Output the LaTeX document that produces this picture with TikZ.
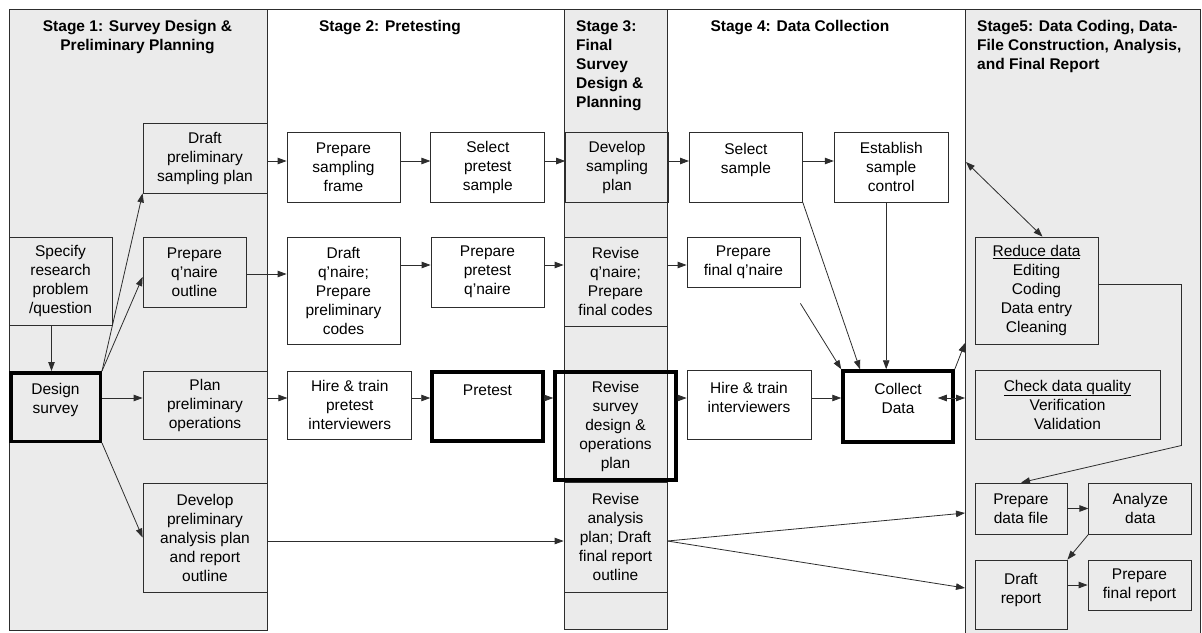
\documentclass[tikz,border=0pt]{standalone}
\usepackage{fontspec}
\setmainfont{Liberation Sans}
\usepackage{tikz}
\usetikzlibrary{arrows.meta, positioning}
\definecolor{panelgray}{RGB}{235,235,235}
\definecolor{linec}{RGB}{45,45,45}
\newcommand\boxfont{\fontsize{15.5}{19}\selectfont}
\tikzstyle{arrow} = [draw=linec, line width=0.8pt, -{Triangle[length=9pt,width=6.5pt]}]
\tikzstyle{darrow} = [arrow, {Triangle[length=9pt,width=6.5pt]}-{Triangle[length=9pt,width=6.5pt]}]
\tikzstyle{process} = [rectangle, draw=linec, line width=0.8pt, inner sep=0pt, align=center, font=\boxfont]
\tikzstyle{keyprocess} = [process, draw=black, line width=3.5pt]
\tikzstyle{panel} = [fill=panelgray, draw=linec, line width=1pt]
\tikzstyle{stagetitle} = [inner sep=0pt, font=\boxfont\bfseries]
\begin{document}
\begin{tikzpicture}[x=1pt, y=-1pt]
\useasboundingbox (0,0) rectangle (1202,632);
%----------------------------------------------------------------------------
% Stage columns
\draw [panel] (9,9) rectangle (267,630);
\draw [panel] (564,9) rectangle (667,629);
\draw [panel] (965,9) rectangle (1200,640);
\draw [linec, line width=1pt] (9,9) -- (1200,9);

\node (stageOne) [stagetitle, anchor=north, align=center] at (137.5,20) {Stage 1: Survey Design \&\\Preliminary Planning};
\node (stageTwo) [stagetitle, anchor=north] at (390,20) {Stage 2: Pretesting};
\node (stageThree) [stagetitle, anchor=north west, align=left] at (576,20) {Stage 3:\\Final\\Survey\\Design \&\\Planning};
\node (stageFour) [stagetitle, anchor=north] at (800,20) {Stage 4: Data Collection};
\node (stageFive) [stagetitle, anchor=north west, align=left] at (977,20) {Stage5: Data Coding, Data-\\File Construction, Analysis,\\and Final Report};

%----------------------------------------------------------------------------
% Stage 1
\node (problem) [process, minimum width=103pt, minimum height=88pt] at (60.5,281) {Specify\\research\\problem\\/question};
\node (design) [keyprocess, minimum width=89.5pt, minimum height=68.5pt, text depth=18pt] at (55.5,407) {Design\\survey};
\node (draftSampling) [process, minimum width=124pt, minimum height=70pt] at (205,158) {Draft\\preliminary\\sampling plan};
\node (prepOutline) [process, minimum width=103pt, minimum height=70pt] at (194.5,272) {Prepare\\q'naire\\outline};
\node (planOps) [process, minimum width=124pt, minimum height=68pt] at (205,405) {Plan\\preliminary\\operations};
\node (devAnalysis) [process, minimum width=124pt, minimum height=109pt] at (205,537.5) {Develop\\preliminary\\analysis plan\\and report\\outline};

% Stage 2
\node (prepFrame) [process, minimum width=113pt, minimum height=70pt] at (343.5,167) {Prepare\\sampling\\frame};
\node (selPretest) [process, right=30pt of prepFrame, minimum width=114pt, minimum height=70pt] {Select\\pretest\\sample};
\node (draftQ) [process, minimum width=113pt, minimum height=107pt] at (343.5,290.5) {Draft\\q'naire;\\Prepare\\preliminary\\codes};
\node (prepPretestQ) [process, minimum width=113pt, minimum height=70pt] at (487.5,272) {Prepare\\pretest\\q'naire};
\node (hirePretest) [process, right=20pt of planOps, minimum width=124pt, minimum height=68pt] {Hire \& train\\pretest\\interviewers};
\node (pretest) [keyprocess, minimum width=111pt, minimum height=69pt, text depth=33pt] at (487.5,406.5) {Pretest};

% Stage 3
\node (devSampling) [process, right=20pt of selPretest, minimum width=103pt, minimum height=70pt] {Develop\\sampling\\plan};
\node (reviseQ) [process, minimum width=103pt, minimum height=89pt] at (615.5,281.5) {Revise\\q'naire;\\Prepare\\final codes};
\node (reviseDesign) [keyprocess, minimum width=121pt, minimum height=108pt] at (615.5,426) {Revise\\survey\\design \&\\operations\\plan};
\node (reviseAnalysis) [process, minimum width=103pt, minimum height=110pt] at (615.5,537) {Revise\\analysis\\plan; Draft\\final report\\outline};

% Stage 4
\node (selSample) [process, right=20pt of devSampling, minimum width=113pt, minimum height=70pt, text depth=18pt] {Select\\sample};
\node (sampleCtrl) [process, right=31pt of selSample, minimum width=114pt, minimum height=70pt] {Establish\\sample\\control};
\node (prepFinalQ) [process, minimum width=113pt, minimum height=50pt] at (743.5,262) {Prepare\\final q'naire};
\node (hireInt) [process, minimum width=124pt, minimum height=69pt, text depth=15pt] at (749,404.5) {Hire \& train\\interviewers};
\node (collect) [keyprocess, minimum width=110pt, minimum height=71pt, text depth=17pt] at (898,406.5) {Collect\\Data};

% Stage 5
\node (reduce) [process, minimum width=123pt, minimum height=107pt] at (1036.5,290.5) {\underline{Reduce data}\\Editing\\Coding\\Data entry\\Cleaning};
\node (checkQ) [process, minimum width=185pt, minimum height=69pt] at (1067.5,404.5) {\underline{Check data quality}\\Verification\\Validation};
\node (prepFile) [process, minimum width=92pt, minimum height=51pt] at (1021,508.5) {Prepare\\data file};
\node (analyze) [process, right=21pt of prepFile, minimum width=103pt, minimum height=51pt] {Analyze\\data};
\node (draftReport) [process, minimum width=92pt, minimum height=69pt, text depth=13pt] at (1021,594.5) {Draft\\report};
\node (finalReport) [process, minimum width=103pt, minimum height=50pt] at (1139.5,585) {Prepare\\final report};

%----------------------------------------------------------------------------
% Rows and column edges
\coordinate (rowA) at (0,161);
\coordinate (rowB) at (0,265);
\coordinate (rowBo) at (0,274);
\coordinate (rowC) at (0,398);
\coordinate (rowD) at (0,541);
\coordinate (edgeTop) at (966,162);
\coordinate (edgeUp) at (965,343);
\coordinate (edgeMid) at (965,398);
\coordinate (edgeLowA) at (965,513);
\coordinate (edgeLowB) at (965,588);

%----------------------------------------------------------------------------
% Lines
\draw [arrow] ([xshift=-9pt]problem.south) -- ([xshift=-9pt]problem.south |- design.north);
\draw [arrow] (design.north east) -- (draftSampling.south west);
\draw [arrow] (design.north east) -- ([yshift=-5pt]prepOutline.west);
\draw [arrow] (design.east |- rowC) -- (planOps.west |- rowC);
\draw [arrow] (design.south east) -- (devAnalysis.west);

\draw [arrow] (draftSampling.east |- rowA) -- (prepFrame.west |- rowA);
\draw [arrow] (prepFrame.east |- rowA) -- (selPretest.west |- rowA);
\draw [arrow] (selPretest.east |- rowA) -- (devSampling.west |- rowA);
\draw [arrow] (devSampling.east |- rowA) -- (selSample.west |- rowA);
\draw [arrow] (selSample.east |- rowA) -- (sampleCtrl.west |- rowA);

\draw [arrow] (prepOutline.east |- rowBo) -- (draftQ.west |- rowBo);
\draw [arrow] (draftQ.east |- rowB) -- (prepPretestQ.west |- rowB);
\draw [arrow] (prepPretestQ.east |- rowB) -- (reviseQ.west |- rowB);
\draw [arrow] (reviseQ.east |- rowB) -- (prepFinalQ.west |- rowB);

\draw [arrow] (planOps.east |- rowC) -- (hirePretest.west |- rowC);
\draw [arrow] (hirePretest.east |- rowC) -- (pretest.west |- rowC);
\draw [arrow] (pretest.east |- rowC) -- (reviseDesign.west |- rowC);
\draw [arrow] (reviseDesign.east |- rowC) -- (hireInt.west |- rowC);
\draw [arrow] (hireInt.east |- rowC) -- (collect.west |- rowC);

\draw [arrow] (selSample.south east) -- ([xshift=-38pt]collect.north);
\draw [arrow] ([xshift=-5pt]sampleCtrl.south) -- ([xshift=-5pt]sampleCtrl.south |- collect.north);
\draw [arrow] ([yshift=-16pt]prepFinalQ.south east) -- (collect.north west);
\draw [arrow] (collect.north east) -- (edgeUp);
\draw [darrow] ([xshift=-17pt]collect.east |- rowC) -- (edgeMid);

\draw [arrow] (devAnalysis.east |- rowD) -- (reviseAnalysis.west |- rowD);
\draw [arrow] (reviseAnalysis.east |- rowD) -- (edgeLowA);
\draw [arrow] (reviseAnalysis.east |- rowD) -- (edgeLowB);

\draw [darrow] (edgeTop) -- ([xshift=6pt]reduce.north);
\draw [arrow] ([yshift=6pt]reduce.east) -- ++(83pt,0) -- ++(0,161) -- (prepFile.north);
\draw [arrow] (prepFile) -- (analyze);
\draw [arrow] (analyze.south west) -- (draftReport.north east);
\draw [arrow] (draftReport.east |- finalReport.west) -- (finalReport.west);

\end{tikzpicture}
\end{document}
